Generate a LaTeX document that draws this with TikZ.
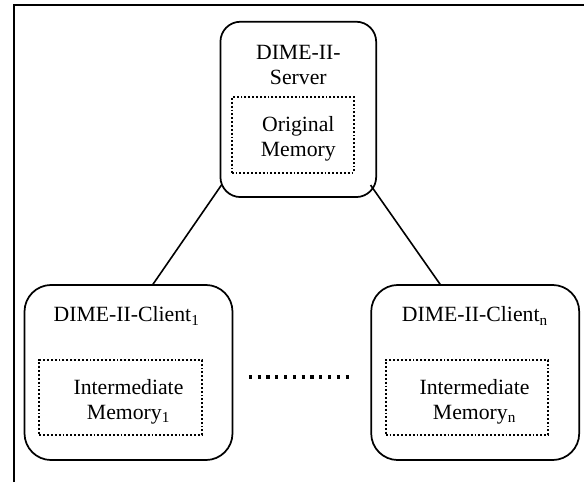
\documentclass[tikz,border=0pt]{standalone}
\usepackage{fontspec}
\setmainfont{Liberation Serif}
\usetikzlibrary{calc}
\begin{document}
\begin{tikzpicture}[x=0.75pt,y=-0.75pt,
  srvbox/.style={draw,rounded corners=15pt,line width=1.3pt,inner sep=0pt,outer sep=0pt,
                 minimum width=116.8pt,minimum height=131.5pt},
  clibox/.style={draw,rounded corners=20pt,line width=1.3pt,inner sep=0pt,outer sep=0pt,
                 minimum width=156pt,minimum height=131.3pt},
  membox/.style={draw,line width=1.4pt,dash pattern=on 1.4pt off 1.5pt,inner sep=0pt,outer sep=0pt},
  txt/.style={font=\fontsize{16.3}{18.5}\selectfont,align=center,inner sep=0pt},
  link/.style={line width=1.2pt},
  bigdots/.style={line width=2.4pt,dash pattern=on 2.4pt off 4.2pt}
]
\useasboundingbox (0,0) rectangle (584,482);
% frame
\draw[line width=1.6pt] (14,482) -- (14,5) -- (584,5);

% server
\node[srvbox] (srv) at (298.3,109.4) {};
\node[membox,minimum width=91.5pt,minimum height=57pt] (srvmem) at (292.7,135) {};
\node[txt] (srvtitle) at (298.3,65) {DIME-II-\\Server};
\node[txt] (srvmemtxt) at (298.3,138.5) {Original\\Memory};

% client 1
\node[clibox] (c1) at (128.5,372.5) {};
\node[membox,minimum width=122pt,minimum height=56pt] (c1mem) at (120.7,397.5) {};
\node[txt] (c1title) at (126.6,316) {DIME-II-Client\textsubscript{1}};
\node[txt] (c1memtxt) at (128.5,401.5) {Intermediate\\Memory\textsubscript{1}};

% client n
\node[clibox] (cn) at (475.2,372.5) {};
\node[membox,minimum width=122pt,minimum height=56pt] (cnmem) at (467,397.5) {};
\node[txt] (cntitle) at (474.9,316) {DIME-II-Client\textsubscript{n}};
\node[txt] (cnmemtxt) at (474.5,401.5) {Intermediate\\Memory\textsubscript{n}};

% connectors
\draw[link] ($(srv.south west)+(1,-12)$) -- ($(c1.north)+(24,0)$);
\draw[link] ($(srv.south east)+(-5.6,-12)$) -- ($(cn.north)+(-34.6,0)$);

% ellipsis dots
\coordinate (d1) at (248.8,377);
\coordinate (d2) at (349,377);
\draw[bigdots] (d1) -- (d2);
\end{tikzpicture}
\end{document}
